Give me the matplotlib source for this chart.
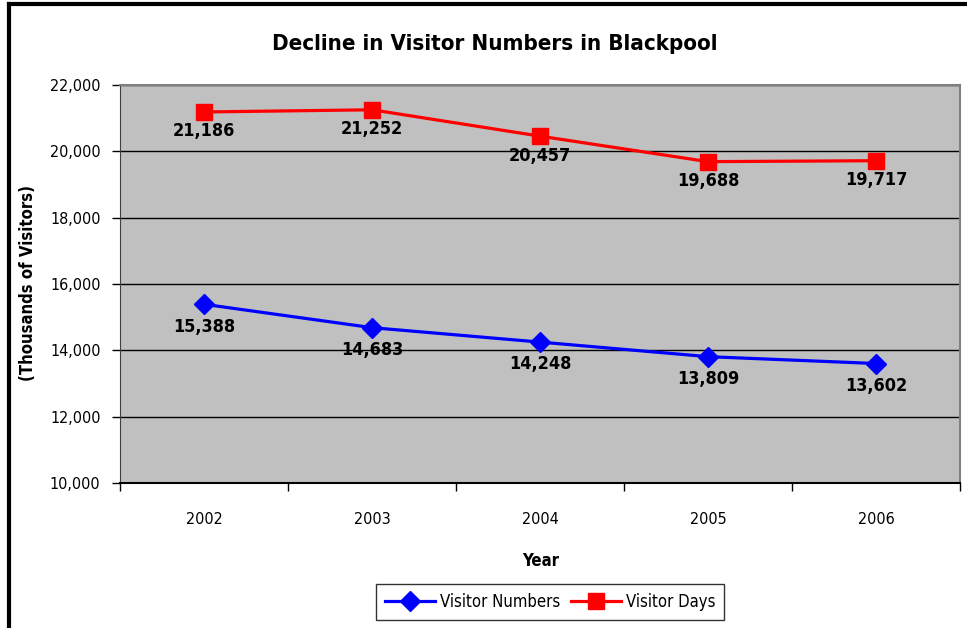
import matplotlib.pyplot as plt
from matplotlib.lines import Line2D
from matplotlib.ticker import FuncFormatter

plt.rcParams['font.family'] = ['Liberation Sans Narrow', 'DejaVu Sans']
plt.rcParams['font.stretch'] = 'condensed'

years = ['2002', '2003', '2004', '2005', '2006']
visitor_numbers = [15388, 14683, 14248, 13809, 13602]
visitor_days = [21186, 21252, 20457, 19688, 19717]

fig = plt.figure(figsize=(9.67, 6.28), dpi=100)
ax = fig.add_axes([0.1241, 0.2309, 0.8687, 0.6338])
ax.set_facecolor('#c0c0c0')

x = list(range(len(years)))
ax.plot(x, visitor_numbers, color='#0000ff', lw=2.3, marker='D', ms=10,
        label='Visitor Numbers', zorder=3)
ax.plot(x, visitor_days, color='#ff0000', lw=2.3, marker='s', ms=12,
        label='Visitor Days', zorder=3)

for xi, v in zip(x, visitor_numbers):
    ax.annotate(f'{v:,}', (xi, v), xytext=(0, -16), textcoords='offset points',
                ha='center', va='center', fontsize=13, fontweight='bold')
for xi, v in zip(x, visitor_days):
    ax.annotate(f'{v:,}', (xi, v), xytext=(0, -14), textcoords='offset points',
                ha='center', va='center', fontsize=13, fontweight='bold')

ax.set_xlim(-0.5, 4.5)
ax.set_ylim(10000, 22000)
ax.set_yticks(range(10000, 22001, 2000))
ax.yaxis.set_major_formatter(FuncFormatter(lambda v, p: f'{int(v):,}'))
ax.set_xticks([i - 0.5 for i in range(6)])
ax.set_xticklabels([])
ax.set_xticks(x, minor=True)
ax.set_xticklabels(years, minor=True)
ax.tick_params(axis='x', which='minor', length=0, pad=21, labelsize=11.5)
ax.tick_params(axis='x', which='major', length=6, width=1, direction='out')
ax.tick_params(axis='y', length=6, width=1, direction='out', pad=8, labelsize=11.5)
ax.grid(axis='y', color='black', lw=1)
ax.set_axisbelow(True)

for side in ['top', 'right']:
    ax.spines[side].set_color('#808080')
    ax.spines[side].set_linewidth(1.5)
ax.spines['left'].set_color('#404040')
ax.spines['bottom'].set_color('black')
ax.spines['bottom'].set_linewidth(1.5)

fig.text(0.512, 0.93, 'Decline in Visitor Numbers in Blackpool',
         ha='center', va='center', fontsize=16, fontweight='bold')
fig.text(0.029, 0.549, '(Thousands of Visitors)', rotation=90,
         ha='center', va='center', fontsize=12, fontweight='bold')
fig.text(0.559, 0.107, 'Year', ha='center', va='center',
         fontsize=12, fontweight='bold')

leg = fig.legend(loc='center', bbox_to_anchor=(0.569, 0.041), ncol=2,
                 fontsize=12, frameon=True, fancybox=False, borderpad=0.55,
                 handlelength=3, columnspacing=0.6, handletextpad=0.3)
leg.get_frame().set_edgecolor('black')
leg.get_frame().set_linewidth(1)

# outer chart border (top and left only visible)
fig.add_artist(Line2D([0.009, 1.0], [0.993, 0.993], color='black', lw=3,
                      transform=fig.transFigure))
fig.add_artist(Line2D([0.009, 0.009], [0.0, 0.993], color='black', lw=3,
                      transform=fig.transFigure))

fig.savefig('out.png', dpi=100)
